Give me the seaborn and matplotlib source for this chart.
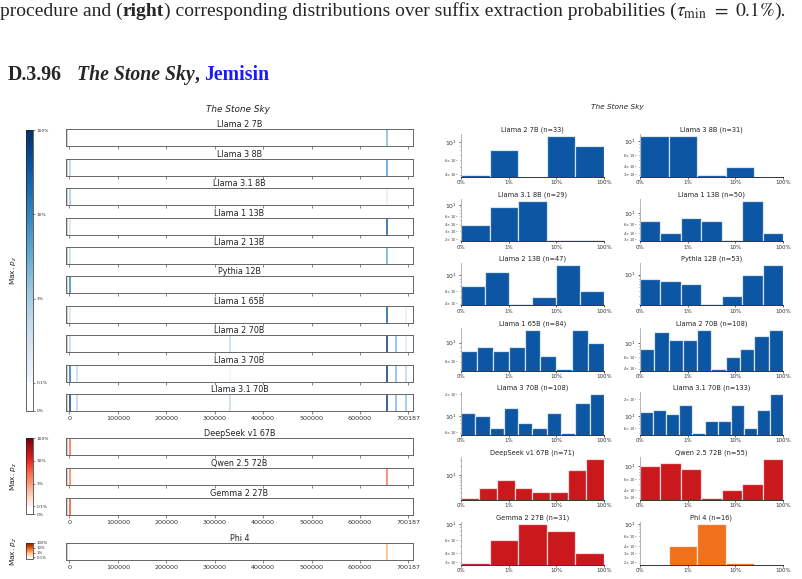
import numpy as np
import pandas as pd
import matplotlib
matplotlib.use("Agg")
import matplotlib.pyplot as plt
import matplotlib.colors as mcolors
import matplotlib.cm as mcm
import seaborn as sns

# ---------------- data ----------------
book_title = "The Stone Sky"
book_author = "Jemisin"
section_no = "D.3.96"
n_positions = 700187
strip_ticks = [0, 100000, 200000, 300000, 400000, 500000, 600000, 700187]

blue_models = ["Llama 2 7B", "Llama 3 8B", "Llama 3.1 8B", "Llama 1 13B", "Llama 2 13B",
               "Pythia 12B", "Llama 1 65B", "Llama 2 70B", "Llama 3 70B", "Llama 3.1 70B"]
red_models = ["DeepSeek v1 67B", "Qwen 2.5 72B", "Gemma 2 27B"]
orange_models = ["Phi 4"]

# strip lines: positions and max p_z (fraction)
pos_llama2_7b = [656000]
val_llama2_7b = [0.02]
pos_llama3_8b = [2000, 656000]
val_llama3_8b = [0.008, 0.05]
pos_llama31_8b = [2000, 656000]
val_llama31_8b = [0.012, 0.0015]
pos_llama1_13b = [2000, 656000]
val_llama1_13b = [0.003, 0.3]
pos_llama2_13b = [2000, 656000]
val_llama2_13b = [0.005, 0.03]
pos_pythia_12b = [1500]
val_pythia_12b = [0.1]
pos_llama1_65b = [2000, 656000, 696000]
val_llama1_65b = [0.003, 0.3, 0.0015]
pos_llama2_70b = [2000, 332000, 656000, 674000, 696000]
val_llama2_70b = [0.006, 0.005, 0.8, 0.02, 0.002]
pos_llama3_70b = [1500, 15000, 332000, 656000, 674000, 696000]
val_llama3_70b = [0.15, 0.005, 0.0012, 0.8, 0.02, 0.006]
pos_llama31_70b = [1500, 15000, 332000, 656000, 674000, 696000]
val_llama31_70b = [0.6, 0.006, 0.005, 0.8, 0.02, 0.015]
pos_deepseek_67b = [2000]
val_deepseek_67b = [0.03]
pos_qwen25_72b = [2000, 656000]
val_qwen25_72b = [0.02, 0.02]
pos_gemma2_27b = [2000]
val_gemma2_27b = [0.05]
pos_phi4 = [656000]
val_phi4 = [0.01]

blue_pos = [pos_llama2_7b, pos_llama3_8b, pos_llama31_8b, pos_llama1_13b, pos_llama2_13b,
            pos_pythia_12b, pos_llama1_65b, pos_llama2_70b, pos_llama3_70b, pos_llama31_70b]
blue_val = [val_llama2_7b, val_llama3_8b, val_llama31_8b, val_llama1_13b, val_llama2_13b,
            val_pythia_12b, val_llama1_65b, val_llama2_70b, val_llama3_70b, val_llama31_70b]
red_pos = [pos_deepseek_67b, pos_qwen25_72b, pos_gemma2_27b]
red_val = [val_deepseek_67b, val_qwen25_72b, val_gemma2_27b]
orange_pos = [pos_phi4]
orange_val = [val_phi4]

cbar_ticks = [0, 0.001, 0.01, 0.1, 1.0]
cbar_labels = ["0%", "0.1%", "1%", "10%", "100%"]
cbar_ticks_small = [0.001, 0.01, 0.1, 1.0]
cbar_labels_small = ["0.1%", "1%", "10%", "100%"]

# histograms: counts per equal log-width bin over [0.1%, 100%]
hist_models = ["Llama 2 7B", "Llama 3 8B", "Llama 3.1 8B", "Llama 1 13B", "Llama 2 13B",
               "Pythia 12B", "Llama 1 65B", "Llama 2 70B", "Llama 3 70B", "Llama 3.1 70B",
               "DeepSeek v1 67B", "Qwen 2.5 72B", "Gemma 2 27B", "Phi 4"]
hist_n = [33, 31, 29, 50, 47, 53, 84, 108, 108, 133, 71, 55, 31, 16]
cnt_llama2_7b = [4, 8, 0, 12, 9]
cnt_llama3_8b = [12, 12, 3, 4, 0]
cnt_llama31_8b = [4, 9, 12, 2, 2]
cnt_llama1_13b = [7, 4, 8, 7, 3, 17, 4]
cnt_llama2_13b = [7, 11, 4, 5, 14, 6]
cnt_pythia_12b = [8, 7, 6, 2, 3, 10, 17]
cnt_llama1_65b = [8, 9, 8, 9, 14, 7, 5, 14, 10]
cnt_llama2_70b = [8, 15, 11, 11, 16, 4, 6, 8, 13, 16]
cnt_llama3_70b = [11, 10, 7, 13, 8, 7, 11, 6, 15, 20]
cnt_llama31_70b = [12, 13, 11, 16, 5, 8, 8, 16, 6, 13, 25]
cnt_deepseek_67b = [2, 4, 7, 4, 3, 3, 15, 33]
cnt_qwen25_72b = [10, 11, 9, 3, 4, 5, 13]
cnt_gemma2_27b = [3, 6, 10, 8, 4]
cnt_phi4 = [0, 4, 10, 2, 0]
hist_counts = [cnt_llama2_7b, cnt_llama3_8b, cnt_llama31_8b, cnt_llama1_13b, cnt_llama2_13b,
               cnt_pythia_12b, cnt_llama1_65b, cnt_llama2_70b, cnt_llama3_70b, cnt_llama31_70b,
               cnt_deepseek_67b, cnt_qwen25_72b, cnt_gemma2_27b, cnt_phi4]
hist_family = ["blue"] * 10 + ["red"] * 3 + ["orange"]
hist_xticks = [-3, -2, -1, 0]
hist_xlabels = ["0%", "1%", "10%", "100%"]

# ---------------- style ----------------
sns.set_style("ticks")
plt.rcParams["font.family"] = ["DejaVu Sans"]

W, H = 803, 579
fig = plt.figure(figsize=(W / 100, H / 100), dpi=100)
renderer = fig.canvas.get_renderer()


def px(x0, y0, x1, y1):
    return [x0 / W, 1 - y1 / H, (x1 - x0) / W, (y1 - y0) / H]


# ---------------- page text ----------------
def run_text(x_px, y_px, pieces, size, family):
    x = x_px
    for s, kw in pieces:
        if s is None:
            x += kw
            continue
        t = fig.text(x / W, 1 - y_px / H, s, fontsize=size, family=family,
                     va="baseline", ha="left", **kw)
        x += t.get_window_extent(renderer).width
    return x


serif = "Liberation Serif"
run_text(0, 16, [
    ("procedure and (", {}),
    ("right", {"fontweight": "bold"}),
    (") corresponding distributions over suffix extraction probabilities (", {}),
    (r"$\tau_{\min}$", {"math_fontfamily": "stix"}),
    (None, 5),
    (r"$=$", {"math_fontfamily": "stix"}),
    (None, 5),
    (r"$0.1\%$", {"math_fontfamily": "stix"}),
    (").", {}),
], 14.0, serif)

run_text(8, 80, [
    (section_no, {"fontweight": "bold"}),
    (None, 15),
    (book_title, {"fontweight": "bold", "fontstyle": "italic"}),
    (",", {"fontweight": "bold"}),
    (None, 5),
    (book_author, {"fontweight": "bold", "color": "#1a1aff"}),
], 14.2, serif)

# ---------------- colour norm ----------------
def fwd(v):
    v = np.asarray(v, dtype=float)
    lv = np.log10(np.maximum(v, 1e-3))
    return np.where(v < 1e-3, v / 1e-3 * 0.1, 0.1 + 0.3 * (lv + 3))


def inv(u):
    u = np.asarray(u, dtype=float)
    return np.where(u < 0.1, u / 0.1 * 1e-3, 10 ** ((u - 0.1) / 0.3 - 3))


norm = mcolors.FuncNorm((fwd, inv), vmin=0, vmax=1)


def make_cmap(name):
    base = plt.get_cmap(name)
    u = np.linspace(0, 1, 256)
    cols = [(1, 1, 1, 1) if uu < 0.1 else base((uu - 0.1) / 0.9 * 0.97 + 0.03) for uu in u]
    return mcolors.ListedColormap(cols)


cmaps = {"blue": make_cmap("Blues"), "red": make_cmap("Reds"), "orange": make_cmap("Oranges")}

# ---------------- left: strips ----------------
fig.text(238 / W, 1 - 109 / H, book_title, fontsize=6.4, style="italic",
         ha="center", va="center", color="#222")

XL, XR = 66, 413
XLIM = (-7000, 709500)


def draw_strip(top, name, pos, val, cmap, show_labels):
    ax = fig.add_axes(px(XL, top, XR, top + 17))
    ax.axvspan(XLIM[0], -2500, color="#cfcfcf", lw=0)
    df = pd.DataFrame({"pos": pos, "val": val})
    sns.rugplot(data=df, x="pos", hue="val", palette=cmap, hue_norm=norm, height=1, ax=ax,
                legend=False, linewidth=1.1, expand_margins=False)
    ax.set_xlim(*XLIM)
    ax.set_ylim(0, 1)
    ax.set_yticks([])
    ax.set_xticks(strip_ticks)
    ax.set_xlabel("")
    ax.set_title(name, fontsize=5.8, pad=1.5, color="#222")
    ax.tick_params(axis="x", length=2, width=0.5, color="#555", labelsize=4.6,
                   pad=1.5, labelcolor="#333", labelbottom=show_labels)
    for s in ax.spines.values():
        s.set_color("#666")
        s.set_linewidth(0.7)
    return ax


blue_tops = [129, 159, 188, 218, 247, 276, 306, 335, 365, 394]
for i, (m, p, v) in enumerate(zip(blue_models, blue_pos, blue_val)):
    draw_strip(blue_tops[i], m, p, v, cmaps["blue"], i == len(blue_models) - 1)

red_tops = [438, 468, 498]
for i, (m, p, v) in enumerate(zip(red_models, red_pos, red_val)):
    draw_strip(red_tops[i], m, p, v, cmaps["red"], i == len(red_models) - 1)

draw_strip(543, orange_models[0], orange_pos[0], orange_val[0], cmaps["orange"], True)


def draw_cbar(y0, y1, cmap, label_y, ticks, labels, lsize):
    cax = fig.add_axes(px(26, y0, 33, y1))
    sm = mcm.ScalarMappable(norm=norm, cmap=cmap)
    cb = fig.colorbar(sm, cax=cax)
    cb.set_ticks(ticks)
    cb.set_ticklabels(labels)
    cb.ax.tick_params(labelsize=lsize, length=1.5, width=0.4, pad=1, labelcolor="#333")
    cb.outline.set_linewidth(0.5)
    cb.ax.minorticks_off()
    fig.text(14 / W, 1 - label_y / H, r"Max. $p_z$", rotation=90, fontsize=5.3,
             ha="center", va="center", color="#222")


draw_cbar(130, 411, cmaps["blue"], 270, cbar_ticks, cbar_labels, 3.2)
draw_cbar(438, 514, cmaps["red"], 476, cbar_ticks, cbar_labels, 3.2)
draw_cbar(543, 559, cmaps["orange"], 551, cbar_ticks_small, cbar_labels_small, 2.8)

# ---------------- right: histograms ----------------
fig.text(617 / W, 1 - 107 / H, book_title, fontsize=5.3, style="italic",
         ha="center", va="center", color="#222")

bar_colors = {"blue": "#0d56a3", "red": "#cb181d", "orange": "#f0701c"}
col_x = [461, 640]
row_tops = [134, 199, 263, 328, 392, 457, 522]

for i, (m, n, counts, fam) in enumerate(zip(hist_models, hist_n, hist_counts, hist_family)):
    r, c = divmod(i, 2)
    ax = fig.add_axes(px(col_x[c], row_tops[r], col_x[c] + 143, row_tops[r] + 42.5))
    nb = len(counts)
    edges = np.linspace(-3, 0, nb + 1)
    centers = (edges[:-1] + edges[1:]) / 2
    hdf = pd.DataFrame({"logp": centers, "count": np.asarray(counts, dtype=float)})
    sns.histplot(data=hdf, x="logp", weights="count", bins=list(edges), ax=ax,
                 color=bar_colors[fam], edgecolor=(1, 1, 1, 0.7), linewidth=0.9, alpha=1)
    ax.set_yscale("log")
    ax.set_xlim(-3, 0)
    ax.set_xticks(hist_xticks)
    ax.set_xticklabels(hist_xlabels)
    ax.set_xlabel("")
    ax.set_ylabel("")
    ax.set_title(f"{m} (n={n})", fontsize=4.8, pad=2, color="#222")
    ax.tick_params(axis="x", labelsize=4, length=1.5, width=0.5, pad=1, labelcolor="#333")
    ax.tick_params(axis="y", which="major", labelsize=4.4, length=1.5, width=0.5, pad=1,
                   labelcolor="#333")
    ax.tick_params(axis="y", which="minor", labelsize=2.5, length=1, width=0.4, pad=1,
                   labelcolor="#333")
    sns.despine(ax=ax)
    ax.spines["left"].set_color("#aaaaaa")
    ax.spines["left"].set_linewidth(0.6)
    ax.spines["bottom"].set_color("#333333")
    ax.spines["bottom"].set_linewidth(0.7)

fig.savefig("out.png", dpi=100)
